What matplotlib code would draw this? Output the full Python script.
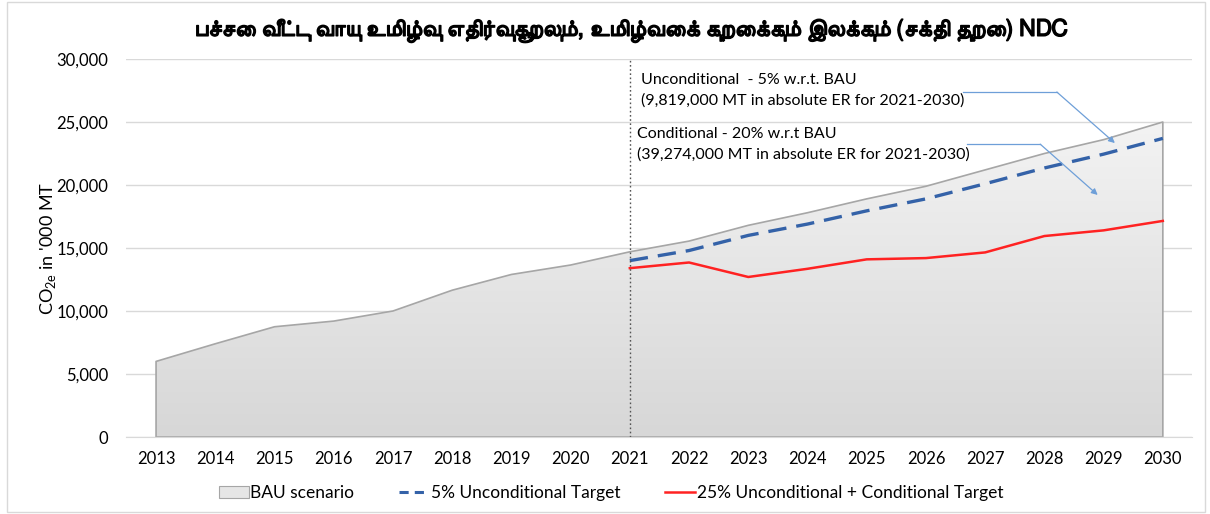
import matplotlib
matplotlib.use("Agg")
import matplotlib.pyplot as plt
import numpy as np
from matplotlib import font_manager
from matplotlib.ft2font import FT2Font
from matplotlib.patches import Rectangle, Patch
from matplotlib.lines import Line2D
from matplotlib.ticker import FuncFormatter, MultipleLocator
from matplotlib.colors import LinearSegmentedColormap
import matplotlib.patheffects as pe

# ---------------- data ----------------
years = [2013, 2014, 2015, 2016, 2017, 2018, 2019, 2020, 2021,
         2022, 2023, 2024, 2025, 2026, 2027, 2028, 2029, 2030]
bau = [6000, 7400, 8750, 9200, 10000, 11650, 12900, 13650, 14700,
       15550, 16800, 17800, 18900, 19900, 21200, 22500, 23600, 25000]
target_years = [2021, 2022, 2023, 2024, 2025, 2026, 2027, 2028, 2029, 2030]
uncond_5 = [14000, 14800, 16000, 16900, 17950, 18900, 20100, 21350, 22450, 23700]
cond_25 = [13400, 13850, 12700, 13350, 14100, 14200, 14650, 15950, 16400, 17150]

title = "பச்சை வீட்டு வாயு உமிழ்வு எதிர்வுகூறலும், உமிழ்வைக் குறைக்கும் இலக்கும் (சக்தி துறை) NDC"
ylabel = "CO$_{\\mathregular{2e}}$ in '000 MT"
legend_labels = ["BAU scenario", "5% Unconditional Target",
                 "25% Unconditional + Conditional Target"]
note1 = "Unconditional  - 5% w.r.t. BAU\n(9,819,000 MT in absolute ER for 2021-2030)"
note2 = "Conditional - 20% w.r.t BAU\n(39,274,000 MT in absolute ER for 2021-2030)"

# ---------------- fonts ----------------
def find_tamil_font():
    best = None
    for f in font_manager.fontManager.ttflist:
        try:
            ft = FT2Font(f.fname)
            if ft.get_char_index(0x0BAA) == 0 or ft.get_char_index(0x0B89) == 0:
                continue
        except Exception:
            continue
        w = f.weight if isinstance(f.weight, int) else 400
        score = 0
        low = f.name.lower()
        if "sans" in low:
            score += 10
        if "serif" in low and "sans" not in low:
            score -= 5
        if w >= 600:
            score += 5
        if f.style == "normal":
            score += 1
        if best is None or score > best[0]:
            best = (score, f.name, w)
    return best

tam = find_tamil_font()
if tam:
    title_family = [tam[1], "DejaVu Sans"]
    title_weight = tam[2]
else:
    title_family = ["DejaVu Sans"]
    title_weight = "bold"

plt.rcParams['font.family'] = ['Lato', 'DejaVu Sans']
plt.rcParams['mathtext.fontset'] = 'custom'
plt.rcParams['mathtext.rm'] = 'Lato'

fig = plt.figure(figsize=(12.10, 5.14), dpi=100)
ax = fig.add_axes([0.1045, 0.1498, 0.881, 0.7354])

# figure border
fig.patches.append(Rectangle((0.006, 0.004), 0.99, 0.992, transform=fig.transFigure,
                             fill=False, edgecolor="#d9d9d9", linewidth=1))

# BAU area with gradient
poly = ax.fill_between(years, bau, 0, facecolor="none", edgecolor="#a6a6a6",
                       linewidth=1.2, zorder=2)
grad = np.linspace(0, 1, 256).reshape(-1, 1)
cmap = LinearSegmentedColormap.from_list("g", ["#d7d7d7", "#f3f3f3"])
im = ax.imshow(grad, extent=(years[0], years[-1], 0, max(bau)), origin="lower",
               aspect="auto", cmap=cmap, zorder=1)
path = poly.get_paths()[0]
im.set_clip_path(path, transform=ax.transData)

ax.plot(target_years, uncond_5, color="#3462a8", linewidth=2.4,
        dashes=(5.5, 3), zorder=4)
ax.plot(target_years, cond_25, color="#ff2222", linewidth=1.8, zorder=4)

# vertical dotted line at 2021
ax.axvline(2021, color="#555555", linestyle=(0, (1.2, 1.8)), linewidth=1, zorder=5)

ax.set_xlim(years[0] - 0.5, years[-1] + 0.5)
ax.set_ylim(0, 30000)
ax.yaxis.set_major_locator(MultipleLocator(5000))
ax.yaxis.set_major_formatter(FuncFormatter(lambda v, p: f"{int(v):,}"))
ax.set_xticks(years)
ax.set_xticklabels([str(y) for y in years])
ax.grid(axis="y", color="#d9d9d9", linewidth=1, zorder=0)
ax.set_axisbelow(True)
for s in ["top", "right", "left"]:
    ax.spines[s].set_visible(False)
ax.spines["bottom"].set_color("#d9d9d9")
ax.tick_params(axis="both", length=0, labelsize=12, colors="#000000")
ax.tick_params(axis="x", pad=10)
ax.tick_params(axis="y", pad=13)
ax.set_ylabel(ylabel, fontsize=13, labelpad=-1)

# annotations
ax.text(2013 + (641 - 156) / 59.24, (437 - 90) / 12.6 * 1000, note1,
        fontsize=11.5, va="center", ha="left", linespacing=1.55, zorder=6)
ax.text(2013 + (637 - 156) / 59.24, (437 - 144) / 12.6 * 1000, note2,
        fontsize=11.5, va="center", ha="left", linespacing=1.55, zorder=6)

arrow_col = "#6e9fd8"
ax.plot([2026.62, 2028.21], [27380, 27380], color=arrow_col, linewidth=0.9, zorder=6)
ax.annotate("", xy=(2029.19, 23330), xytext=(2028.21, 27380),
            arrowprops=dict(arrowstyle="-|>", color=arrow_col, lw=0.9,
                            mutation_scale=9, shrinkA=0, shrinkB=0), zorder=6)
ax.plot([2026.69, 2027.93], [23240, 23240], color=arrow_col, linewidth=0.9, zorder=6)
ax.annotate("", xy=(2028.90, 19210), xytext=(2027.93, 23240),
            arrowprops=dict(arrowstyle="-|>", color=arrow_col, lw=0.9,
                            mutation_scale=9, shrinkA=0, shrinkB=0), zorder=6)

t = fig.text(0.521, 0.941, title, ha="center", va="center", fontsize=16.5,
             fontweight=title_weight, family=title_family)
if not (isinstance(title_weight, int) and title_weight >= 600):
    t.set_path_effects([pe.withStroke(linewidth=1.0, foreground="black")])

handles = [Patch(facecolor="#e6e6e6", edgecolor="#a6a6a6", linewidth=0.8),
           Line2D([], [], color="#3462a8", linewidth=2.2, dashes=(3, 2)),
           Line2D([], [], color="#ff2222", linewidth=1.8)]
fig.legend(handles, legend_labels, loc="center", bbox_to_anchor=(0.505, 0.04),
           ncol=3, frameon=False, fontsize=12.5, handlelength=1.7,
           handletextpad=0.1, columnspacing=2.6)

fig.savefig("out.png", dpi=100)
